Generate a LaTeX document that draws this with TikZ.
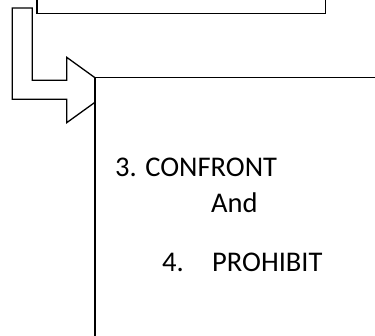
\documentclass[tikz,border=0pt]{standalone}
\usepackage{fontspec}
\setmainfont{Carlito}
\begin{document}
\begin{tikzpicture}[x=1pt,y=-1pt,
  outline/.style={draw=black,line width=1.3pt,fill=white,line join=miter},
  label/.style={anchor=base west,inner sep=0pt,font=\fontsize{28.5}{34}\selectfont}]
  \useasboundingbox (0,0) rectangle (375,335);
  \clip (0,0) rectangle (375,335);
  % upper box, running off the top edge
  \draw[outline] (37,-20) rectangle (325.7,13.3);
  % bent block arrow leading down into the lower box
  \draw[outline] (12.3,8) -- (32.3,8) -- (32.3,80.3) -- (66.7,80.3)
    -- (66.7,57.3) -- (112,90) -- (66.7,122.7) -- (66.7,99.3)
    -- (12.3,99.3) -- cycle;
  % lower box, running off the right and bottom edges
  \draw[outline] (95,77.5) rectangle (400,360);
  \node[label] (confront) at (115,176) {3. CONFRONT};
  \node[label] (and) at (211,212) {And};
  \node[label] (prohibit) at (162,271) {4.\hspace{28.4pt}PROHIBIT};
\end{tikzpicture}
\end{document}
